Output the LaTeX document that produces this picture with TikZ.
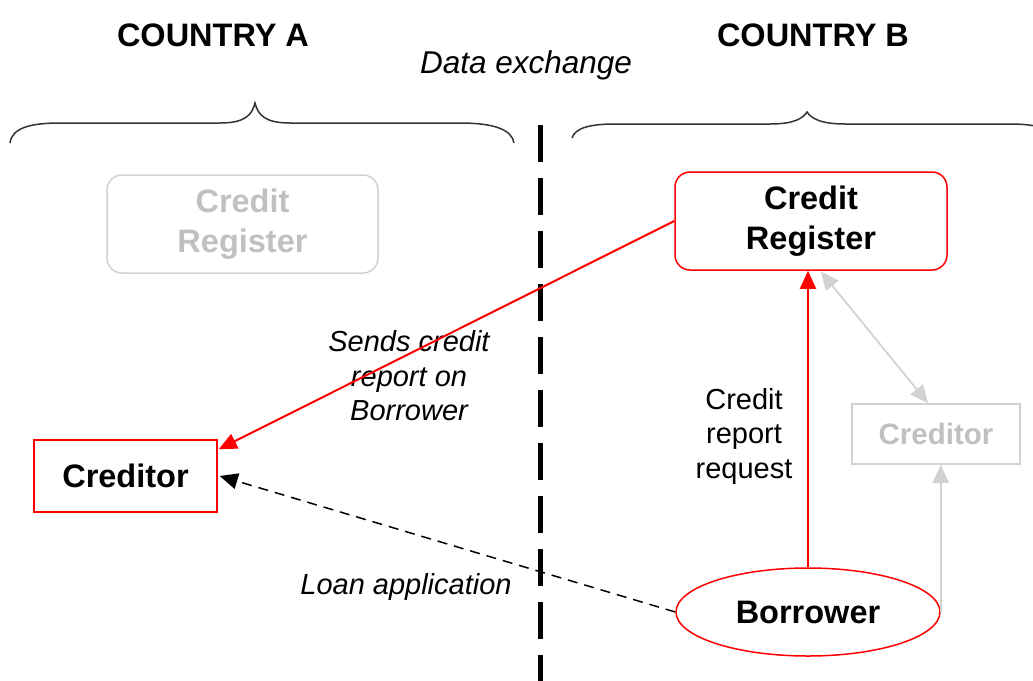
\documentclass[tikz,border=0pt]{standalone}
\usepackage{fontspec}
\setmainfont{Liberation Sans}
\usetikzlibrary{arrows.meta,shapes.geometric,calc}
\definecolor{gborder}{HTML}{D2D2D2}
\definecolor{gtext}{HTML}{C0C0C0}
\definecolor{bracecol}{HTML}{333333}
\begin{document}
\begin{tikzpicture}[x=1pt,y=-1pt,
  title/.style={font=\fontsize{32.5}{36}\selectfont\bfseries, inner sep=0pt},
  lbl/.style={font=\fontsize{29}{34.5}\selectfont\itshape, align=center, inner sep=0pt},
  lblr/.style={font=\fontsize{29}{34.5}\selectfont, align=center, inner sep=0pt},
  boxtext/.style={font=\fontsize{32.5}{40}\selectfont\bfseries, align=center, inner sep=0pt},
  redbox/.style={boxtext, draw=red, line width=1.5pt},
  greybox/.style={boxtext, draw=gborder, line width=1.5pt, text=gtext},
  tip/.style={-{Triangle[length=18pt,width=16pt]}},
  redarrow/.style={tip, draw=red, line width=2pt},
  greyarrow/.style={draw=gborder, line width=1.8pt},
  brace/.style={draw=bracecol, line width=1.5pt},
]
\useasboundingbox (0,0) rectangle (1033,680);
\clip (0,0) rectangle (1033,680);

% titles
\node[title, anchor=base] (ca) at (213,46) {COUNTRY A};
\node[title, anchor=base] (cb) at (813,46) {COUNTRY B};
\node[lbl, anchor=base, font=\fontsize{31.5}{34}\selectfont\itshape] (dx) at (526,73) {Data exchange};

% braces
\draw[brace] (10,143) .. controls (12,128) and (30,123) .. (60,123) -- (220,123)
  .. controls (245,123) and (252,115) .. (255,103)
  .. controls (258,115) and (265,123) .. (290,123) -- (460,123)
  .. controls (495,123) and (512,130) .. (514,143);
\draw[brace] (572,138) .. controls (575,128) and (590,124) .. (615,124) -- (770,124)
  .. controls (795,124) and (803,118) .. (807,112)
  .. controls (811,118) and (820,124) .. (845,124) -- (1010,124)
  .. controls (1040,124) and (1055,130) .. (1058,140);

% divider
\coordinate (dtop) at (540,125);
\coordinate (dbot) at (540,685);
\draw[line width=5pt, dash pattern=on 37pt off 16pt] (dtop) -- (dbot);

% nodes
\node[greybox, rounded corners=15pt, minimum width=271pt, minimum height=98pt] (gcr) at (242.5,224) {Credit\\Register};
\node[redbox, fill=white, rounded corners=15pt, minimum width=272pt, minimum height=98pt] (cr) at (811,221) {Credit\\Register};
\node[redbox, minimum width=183pt, minimum height=72pt] (cl) at (125.5,476) {Creditor};
\node[greybox, font=\fontsize{29.5}{34}\selectfont\bfseries, minimum width=168pt, minimum height=60pt] (gc) at (936,434) {Creditor};
\node[redbox, ellipse, minimum width=264pt, minimum height=88pt] (bor) at (808,612) {Borrower};

% labels
\node[lbl] (l1) at (409,376) {Sends credit\\report on\\Borrower};
\node[lblr] (l2) at (744,436) {Credit\\report\\request};
\node[lbl, anchor=base] (l3) at (406,594) {Loan application};

% connectors
\draw[redarrow] (cr.west) -- ($(cl.north east)+(1,10)$);
\draw[tip, line width=1.5pt, dash pattern=on 10pt off 7pt] (bor.west) -- ($(cl.east)+(2,0)$);
\draw[redarrow] (bor.north) -- (bor.north |- cr.south);
\draw[greyarrow, {Triangle[length=18pt,width=16pt]}-{Triangle[length=18pt,width=16pt]}, fill=gborder] ($(cr.south)+(10,1)$) -- ($(gc.north)+(-8,0)$);
\draw[greyarrow, -{Triangle[length=18pt,width=16pt]}, fill=gborder] (bor.east) -- (bor.east |- gc.south);
\end{tikzpicture}
\end{document}
